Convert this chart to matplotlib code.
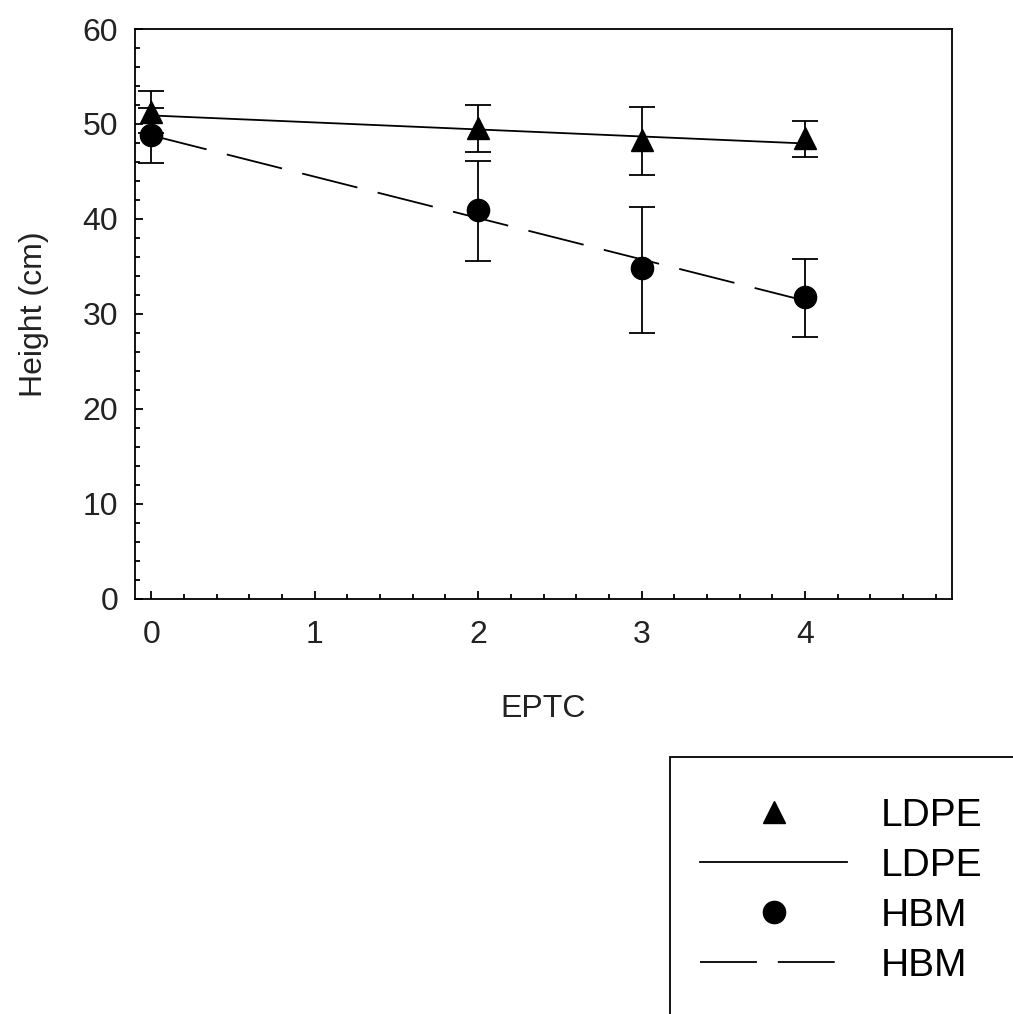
#!/usr/bin/env python3
"""
Plant height vs EPTC rate for LDPE and HBM, with error bars and fitted lines.
"""
import matplotlib
matplotlib.use('Agg')
import matplotlib.pyplot as plt
from matplotlib.patches import Rectangle
from matplotlib.ticker import MultipleLocator

plt.rcParams['font.family'] = ['Liberation Sans', 'DejaVu Sans']
plt.rcParams['lines.scale_dashes'] = False

# data
eptc = [0, 2, 3, 4]

ldpe_mean = [51.3, 49.6, 48.3, 48.5]
ldpe_upper = [53.5, 52.0, 51.8, 50.3]
ldpe_lower = [49.0, 47.0, 44.6, 46.5]

hbm_mean = [48.8, 40.9, 34.8, 31.8]
hbm_upper = [51.7, 46.1, 41.3, 35.8]
hbm_lower = [45.9, 35.6, 28.0, 27.6]

# fitted lines (end points)
fit_x = [0, 4]
ldpe_fit = [50.9, 47.95]
hbm_fit = [48.8, 31.4]


def err(mean, lower, upper):
    return [[m - lo for m, lo in zip(mean, lower)],
            [up - m for m, up in zip(mean, upper)]]


fig = plt.figure(figsize=(10.13, 10.14), dpi=100)
ax = fig.add_axes([0.1333, 0.4093, 0.8065, 0.5621])

eb_kw = dict(fmt='none', ecolor='black', elinewidth=1.3, capsize=9.3, capthick=1.3, zorder=2)
ax.errorbar(eptc, ldpe_mean, yerr=err(ldpe_mean, ldpe_lower, ldpe_upper), **eb_kw)
ax.errorbar(eptc, hbm_mean, yerr=err(hbm_mean, hbm_lower, hbm_upper), **eb_kw)

h1, = ax.plot(eptc, ldpe_mean, ls='none', marker='^', ms=16, color='black', label='LDPE', zorder=3)
h2, = ax.plot(fit_x, ldpe_fit, ls='-', lw=1.3, color='black', label='LDPE', zorder=2)
h3, = ax.plot(eptc, hbm_mean, ls='none', marker='o', ms=16, color='black', label='HBM', zorder=3)
h4, = ax.plot(fit_x, hbm_fit, ls=(0, (41, 15)), lw=1.3, color='black', label='HBM', zorder=2)

ax.set_xlim(-0.1, 4.9)
ax.set_ylim(0, 60)
ax.xaxis.set_major_locator(MultipleLocator(1))
ax.xaxis.set_minor_locator(MultipleLocator(0.2))
ax.yaxis.set_major_locator(MultipleLocator(10))
ax.yaxis.set_minor_locator(MultipleLocator(2))
ax.tick_params(which='both', direction='in', top=False, right=False, width=1.3, colors='black')
ax.tick_params(which='major', length=6)
ax.tick_params(which='minor', length=3.5)
ax.tick_params(axis='x', which='major', pad=15, labelsize=23, labelcolor='#222222')
ax.tick_params(axis='y', which='major', pad=12, labelsize=23, labelcolor='#222222')
for sp in ax.spines.values():
    sp.set_linewidth(1.3)

ax.set_xlabel('EPTC', fontsize=23, color='#222222', labelpad=32)
ax.set_ylabel('Height (cm)', fontsize=23, color='#222222', labelpad=24)

# legend, frame drawn separately since it runs off the page
fig.legend(handles=[h1, h2, h3, h4], loc='upper left',
           bbox_to_anchor=(700 / 1013, 1 - 798 / 1014), frameon=False,
           fontsize=28, numpoints=1, handlelength=3.79, handletextpad=0.85,
           labelspacing=0.36, borderpad=0, borderaxespad=0)
fig.patches.append(Rectangle((670 / 1013, -0.05), 0.5, 1 - 757 / 1014 + 0.05,
                             transform=fig.transFigure, fill=False, lw=1.3,
                             edgecolor='black', clip_on=False))

fig.savefig('out.png', dpi=100)
